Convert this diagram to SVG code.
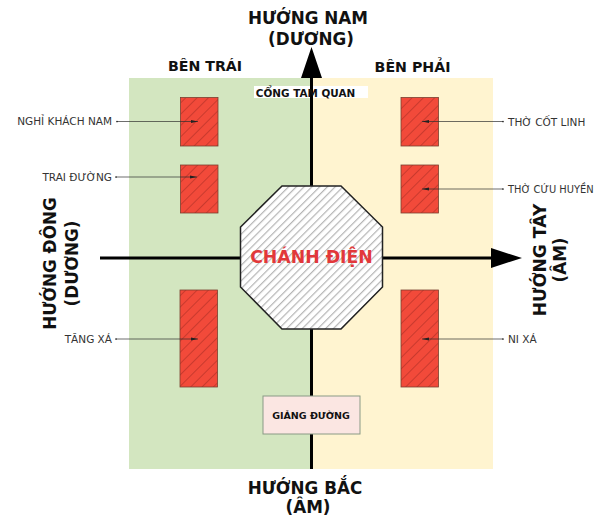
<svg xmlns="http://www.w3.org/2000/svg" width="597" height="517" viewBox="0 0 597 517">
<style>
text{font-family:"DejaVu Sans","Liberation Sans",sans-serif;fill:#1a1a1a}
.b{font-weight:bold;text-anchor:middle;fill:#111}
.dir{font-size:16.800px}
.side{font-size:14.200px}
.lab{font-size:10.500px;fill:#333}
.e{text-anchor:end}
.red{fill:url(#rh);stroke:#7a4030;stroke-width:.8}
.lead{stroke:#2e2e2e;stroke-width:.7;fill:none}
.axis{stroke:#000;stroke-width:3;fill:none}
</style>
<defs>
<pattern id="rh" width="8" height="8" patternUnits="userSpaceOnUse" patternTransform="rotate(45)">
<rect width="8" height="8" fill="#f24a3a"/><rect x="0" width="1" height="8" fill="#c93a2e"/>
</pattern>
<pattern id="gh" width="5.500" height="5.500" patternUnits="userSpaceOnUse" patternTransform="rotate(45)">
<rect width="5.500" height="5.500" fill="#fff"/><rect x="0" width="1.200" height="5.500" fill="#b5b5b5"/>
</pattern>
<marker id="dot" markerWidth="4" markerHeight="4" refX="2" refY="2"><circle cx="2" cy="2" r="1.200" fill="#222"/></marker>
<marker id="tip" markerUnits="userSpaceOnUse" markerWidth="8" markerHeight="4" refX="7" refY="2" orient="auto"><path d="M0 .5L7 2L0 3.500Z" fill="#222"/></marker>
</defs>
<rect id="ben-trai" x="129" y="78" width="182" height="391" fill="#d3e6c0"/>
<rect id="ben-phai" x="311" y="78" width="182" height="391" fill="#fff4d0"/>
<path class="axis" id="axes" d="M311.500 70V469M100 258H495"/>
<path id="arrowheads" d="M311.500 47L322 78H301Z M522 258L491 248V268Z" fill="#000"/>
<g id="nghi-khach-nam"><rect class="red" x="180.500" y="97.500" width="37.500" height="48.500"/><text class="lab e" x="112" y="125">NGHỈ KHÁCH NAM</text></g>
<g id="trai-duong"><rect class="red" x="180.500" y="165" width="37.500" height="48"/><text class="lab e" x="112" y="181">TRAI ĐƯỜNG</text></g>
<g id="tang-xa"><rect class="red" x="180" y="290" width="37.500" height="97"/><text class="lab e" x="112" y="343">TĂNG XÁ</text></g>
<g id="tho-cot-linh"><rect class="red" x="401" y="97.500" width="37.500" height="48.500"/><text class="lab" x="508" y="125.500">THỜ CỐT LINH</text></g>
<g id="tho-cuu-huyen"><rect class="red" x="401" y="165" width="37.500" height="48"/><text class="lab" x="508" y="193" style="font-size:9.900px">THỜ CỨU HUYỀN</text></g>
<g id="ni-xa"><rect class="red" x="401" y="290" width="37.500" height="97"/><text class="lab" x="508" y="343">NI XÁ</text></g>
<g id="connectors">
<path class="lead" marker-start="url(#dot)" marker-end="url(#tip)" d="M117 121.500H198"/>
<path class="lead" marker-start="url(#dot)" marker-end="url(#tip)" d="M116 177H197"/>
<path class="lead" marker-start="url(#dot)" marker-end="url(#tip)" d="M116 339H198"/>
<path class="lead" marker-start="url(#dot)" marker-end="url(#tip)" d="M503 121.500H422"/>
<path class="lead" marker-start="url(#dot)" marker-end="url(#tip)" d="M503 189H422"/>
<path class="lead" marker-start="url(#dot)" marker-end="url(#tip)" d="M503 339H422"/>
</g>
<g id="cong-tam-quan"><rect x="254" y="86" width="114" height="12" fill="#fff"/><path d="M311.500 86V98" stroke="#000" stroke-width="3"/><text class="b" x="305.500" y="96.500" font-size="10.400">CỔNG TAM QUAN</text></g>
<g id="chanh-dien"><path d="M282 186H341L382.500 227V287L341 329H282L240.500 287V227Z" fill="url(#gh)" stroke="#222" stroke-width="1.500"/><text class="b" x="311.500" y="263" font-size="17.300" style="fill:#e2383a">CHÁNH ĐIỆN</text></g>
<g id="giang-duong"><rect x="263" y="396" width="97" height="38" fill="#fbe6e2" stroke="#8a9a85" stroke-width="1"/><text class="b" x="311" y="419" font-size="9.500">GIẢNG ĐƯỜNG</text></g>
<g id="labels">
<text class="b side" x="205" y="71">BÊN TRÁI</text>
<text class="b side" x="412.500" y="72">BÊN PHẢI</text>
<text class="b dir" x="308" y="24">HƯỚNG NAM</text>
<text class="b dir" x="311" y="45">(DƯƠNG)</text>
<text class="b dir" x="305" y="494">HƯỚNG BẮC</text>
<text class="b dir" x="308" y="513">(ÂM)</text>
<text class="b dir" transform="translate(56 263.500) rotate(-90)">HƯỚNG ĐÔNG</text>
<text class="b dir" transform="translate(78 263.500) rotate(-90)">(DƯƠNG)</text>
<text class="b dir" transform="translate(546 260) rotate(-90)" style="font-size:17.200px">HƯỚNG TÂY</text>
<text class="b dir" transform="translate(566 260) rotate(-90)">(ÂM)</text>
</g>
</svg>
